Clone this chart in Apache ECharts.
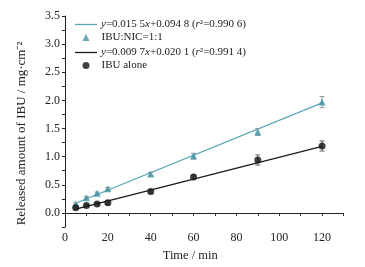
<!DOCTYPE html>
<html><head><meta charset="utf-8">
<script src="https://cdn.jsdelivr.net/npm/echarts@6/dist/echarts.min.js"></script>
<style>html,body{margin:0;padding:0;background:#fff}#c{width:365px;height:267px}</style>
</head><body><div id="c"></div>
<script>
var times = [5, 10, 15, 20, 40, 60, 90, 120];
var nicValues = [0.16, 0.27, 0.35, 0.43, 0.69, 1.01, 1.44, 1.97];
var nicErrors = [0.02, 0.02, 0.02, 0.02, 0.03, 0.05, 0.06, 0.10];
var aloneValues = [0.09, 0.13, 0.16, 0.18, 0.38, 0.64, 0.94, 1.19];
var aloneErrors = [0.02, 0.02, 0.02, 0.03, 0.03, 0.04, 0.09, 0.09];
var fitX = [5, 120];
var nicFit = [0.172, 1.955];
var aloneFit = [0.069, 1.184];
var fitNicName = 'fitNic';
var fitAloneName = 'fitAlone';
var nicName = 'IBU:NIC=1:1';
var aloneName = 'IBU alone';
var fitNicLabel = '{i|y}=0.015 5{i|x}+0.094 8 ({i|r}²=0.990 6)';
var fitAloneLabel = '{i|y}=0.009 7{i|x}+0.020 1 ({i|r}²=0.991 4)';

var FONT = '"Liberation Serif", "Times New Roman", serif';
var TEAL_LINE = '#5aa7b4';
var TEAL = '#3d94a3';
var BLACK = '#111';

function pairs(xs, ys) { return xs.map(function (x, i) { return [x, ys[i]]; }); }
function errData(xs, ys, es) { return xs.map(function (x, i) { return [x, ys[i] - es[i], ys[i] + es[i]]; }); }
function errRender(color) {
  return function (params, api) {
    var lo = api.coord([api.value(0), api.value(1)]);
    var hi = api.coord([api.value(0), api.value(2)]);
    var w = 2.5;
    var st = { stroke: color, lineWidth: 1 };
    return { type: 'group', children: [
      { type: 'line', shape: { x1: lo[0], y1: lo[1], x2: hi[0], y2: hi[1] }, style: st },
      { type: 'line', shape: { x1: lo[0] - w, y1: lo[1], x2: lo[0] + w, y2: lo[1] }, style: st },
      { type: 'line', shape: { x1: hi[0] - w, y1: hi[1], x2: hi[0] + w, y2: hi[1] }, style: st }
    ]};
  };
}
var rich = { i: { fontStyle: 'italic', fontFamily: FONT, fontSize: 11, color: '#222' } };
function lineLegend(name, top, fmt, color) {
  return {
    data: [{ name: name, icon: 'rect', itemStyle: { color: color } }],
    left: 70, top: top, itemWidth: 22, itemHeight: 1.3, itemGap: 0,
    selectedMode: false,
    formatter: function () { return fmt; },
    textStyle: { fontFamily: FONT, fontSize: 11, color: '#222', rich: rich, padding: [0, 0, 0, -1] }
  };
}
function symLegend(name, top, icon, color) {
  return {
    data: [{ name: name, icon: icon, itemStyle: { color: color } }],
    left: 77.5, top: top, itemWidth: 7, itemHeight: 7, itemGap: 0,
    selectedMode: false,
    textStyle: { fontFamily: FONT, fontSize: 11, color: '#222', padding: [0, 0, 0, 7] }
  };
}

var chart = echarts.init(document.getElementById('c'));
chart.setOption({
  animation: false,
  backgroundColor: '#fff',
  grid: { left: 65, right: 21.5, top: 16, bottom: 38 },
  legend: [
    lineLegend(fitNicName, 14, fitNicLabel, TEAL_LINE),
    symLegend(nicName, 27, 'triangle', TEAL),
    lineLegend(fitAloneName, 42, fitAloneLabel, '#1a1a1a'),
    symLegend(aloneName, 55, 'circle', BLACK)
  ],
  xAxis: {
    type: 'value', min: 0, max: 130, interval: 10,
    name: 'Time / min', nameLocation: 'middle', nameGap: 22,
    nameTextStyle: { fontFamily: FONT, fontSize: 12.5, color: '#222', padding: [0, 28, 0, 0] },
    axisLine: { lineStyle: { color: '#222', width: 1 } },
    axisTick: { inside: false, length: 3, lineStyle: { color: '#222' } },
    axisLabel: { margin: 5, fontFamily: FONT, fontSize: 12, color: '#222',
      formatter: function (v) { return (v % 20 === 0 && v <= 120) ? String(v) : ''; } },
    splitLine: { show: false }
  },
  yAxis: {
    type: 'value', min: -0.25, max: 3.5, interval: 0.25,
    name: 'Released amount of IBU / mg·cm⁻²', nameLocation: 'middle', nameGap: 37,
    nameTextStyle: { fontFamily: FONT, fontSize: 13, color: '#222', padding: [0, 24, 0, 0] },
    axisLine: { show: true, lineStyle: { color: '#222', width: 1 } },
    axisTick: { show: true, inside: false, length: 3, lineStyle: { color: '#222' } },
    axisLabel: { margin: 5, fontFamily: FONT, fontSize: 12, color: '#222',
      formatter: function (v) { var r = Math.round(v * 100); return (r % 50 === 0 && r >= 0) ? v.toFixed(1) : ''; } },
    splitLine: { show: false }
  },
  series: [
    { name: fitNicName, type: 'line', data: pairs(fitX, nicFit), symbol: 'none',
      lineStyle: { color: TEAL_LINE, width: 1.3 }, itemStyle: { color: TEAL_LINE }, z: 2 },
    { name: 'errNic', type: 'custom', data: errData(times, nicValues, nicErrors),
      renderItem: errRender('#8f9a9c'), z: 3 },
    { name: nicName, type: 'scatter', data: pairs(times, nicValues), symbol: 'triangle',
      symbolSize: 7, itemStyle: { color: TEAL }, z: 4 },
    { name: fitAloneName, type: 'line', data: pairs(fitX, aloneFit), symbol: 'none',
      lineStyle: { color: '#1a1a1a', width: 1.3 }, itemStyle: { color: '#1a1a1a' }, z: 2 },
    { name: 'errAlone', type: 'custom', data: errData(times, aloneValues, aloneErrors),
      renderItem: errRender('#666'), z: 3 },
    { name: aloneName, type: 'scatter', data: pairs(times, aloneValues), symbol: 'circle',
      symbolSize: 7, itemStyle: { color: BLACK }, z: 4 }
  ]
});
</script></body></html>
